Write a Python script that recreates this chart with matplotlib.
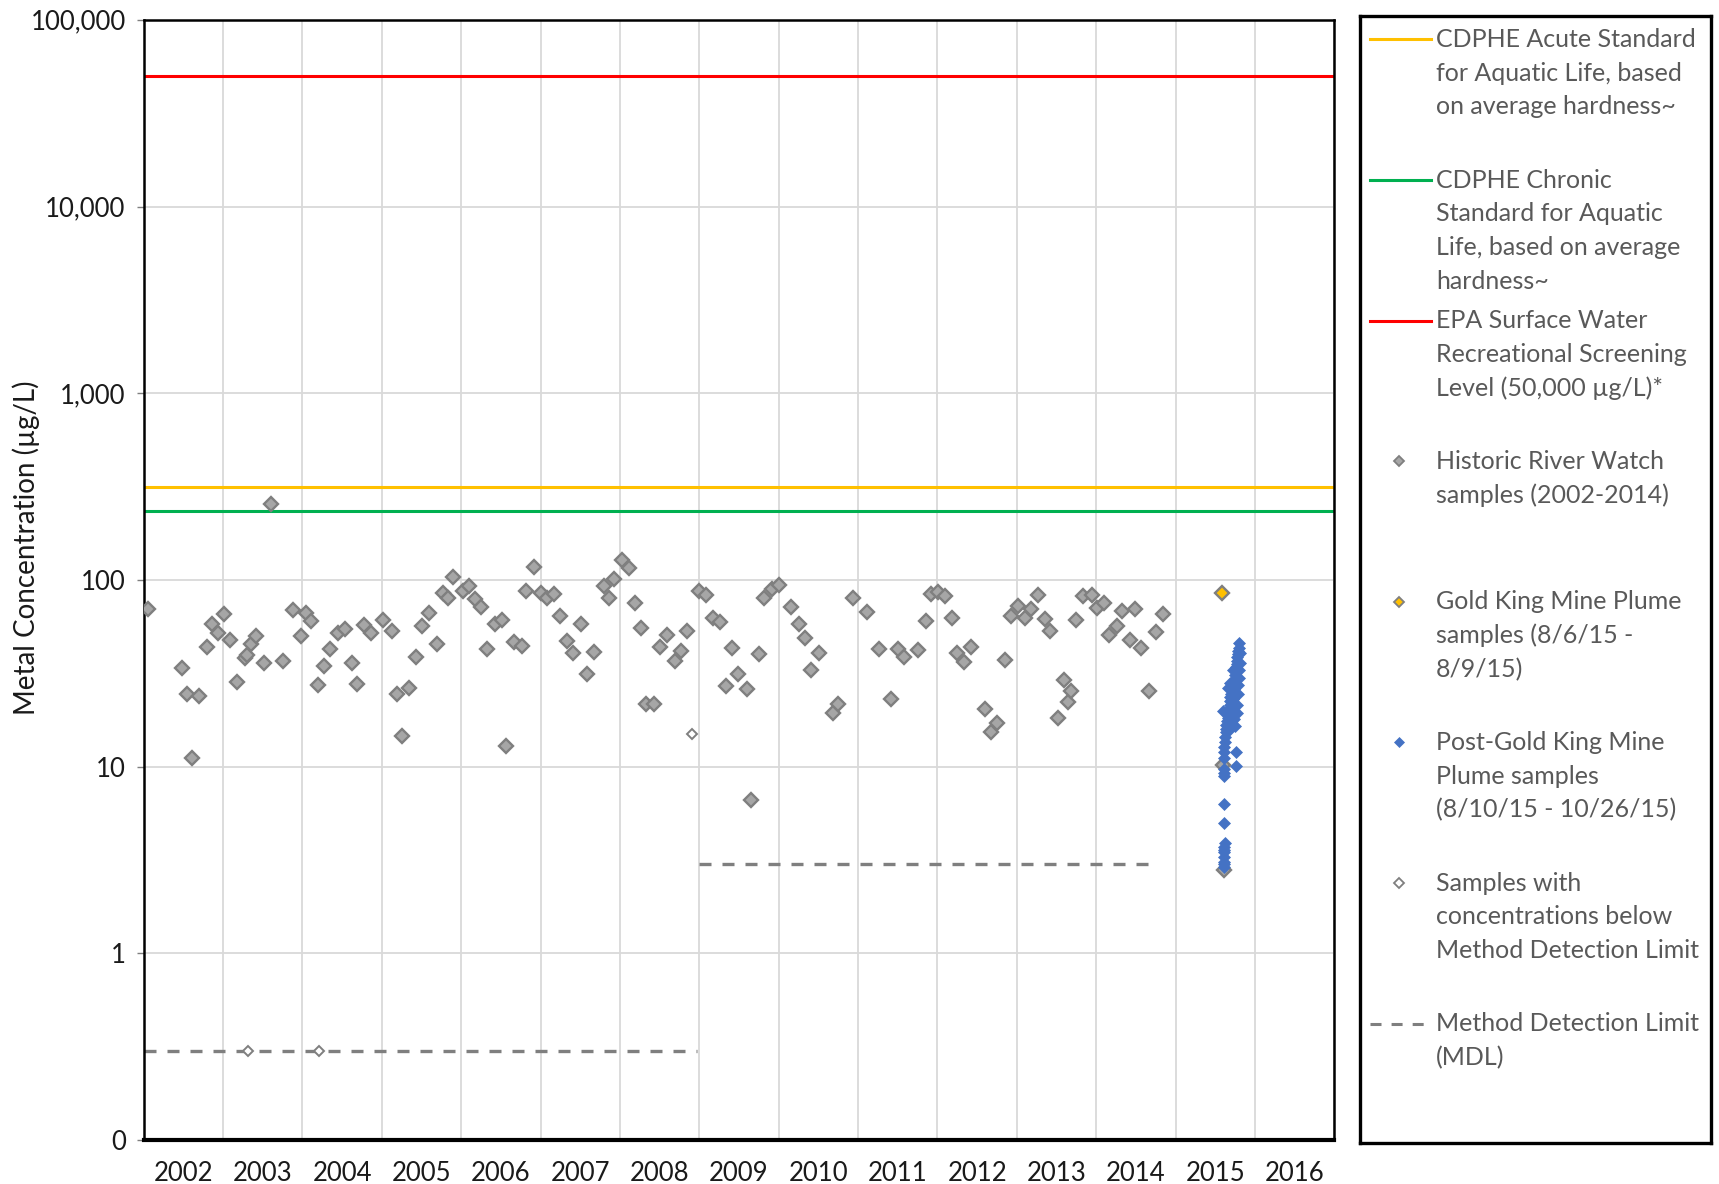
import matplotlib
matplotlib.use("Agg")
import matplotlib.pyplot as plt
from matplotlib.ticker import FixedLocator, FixedFormatter, NullLocator

plt.rcParams['font.family'] = ['Lato', 'DejaVu Sans']

# historic River Watch samples (decimal year, ug/L)
hist_years = [2002.05, 2002.48, 2002.54, 2002.61, 2002.70, 2002.80, 2002.86, 2002.93,
              2003.01, 2003.09, 2003.17, 2003.28, 2003.30, 2003.35, 2003.41, 2003.52,
              2003.61, 2003.75, 2003.88, 2003.98, 2004.04, 2004.11, 2004.20, 2004.27,
              2004.35, 2004.45, 2004.53, 2004.62, 2004.69, 2004.77, 2004.86, 2005.01,
              2005.13, 2005.19, 2005.26, 2005.34, 2005.43, 2005.51, 2005.60, 2005.69,
              2005.77, 2005.84, 2005.90, 2006.02, 2006.10, 2006.17, 2006.25, 2006.33,
              2006.42, 2006.52, 2006.57, 2006.67, 2006.77, 2006.82, 2006.92, 2007.01,
              2007.08, 2007.17, 2007.24, 2007.33, 2007.41, 2007.51, 2007.59, 2007.67,
              2007.80, 2007.86, 2007.93, 2008.03, 2008.11, 2008.19, 2008.27, 2008.33,
              2008.43, 2008.51, 2008.59, 2008.69, 2008.77, 2008.84, 2009.00, 2009.09,
              2009.17, 2009.26, 2009.34, 2009.41, 2009.49, 2009.60, 2009.65, 2009.75,
              2009.82, 2009.91, 2010.01, 2010.15, 2010.25, 2010.33, 2010.41, 2010.51,
              2010.68, 2010.75, 2010.93, 2011.11, 2011.26, 2011.41, 2011.50, 2011.58,
              2011.76, 2011.85, 2011.92, 2012.01, 2012.10, 2012.18, 2012.25, 2012.33,
              2012.42, 2012.60, 2012.67, 2012.75, 2012.85, 2012.93, 2013.01, 2013.10,
              2013.18, 2013.27, 2013.35, 2013.42, 2013.52, 2013.59, 2013.65, 2013.68,
              2013.75, 2013.84, 2013.95, 2014.01, 2014.10, 2014.16, 2014.26, 2014.32,
              2014.42, 2014.49, 2014.57, 2014.66, 2014.75, 2014.84]
hist_vals = [69.6, 33.9, 24.4, 11.1, 24.0, 44.0, 58.4, 52.2,
             66.0, 47.5, 28.5, 38.0, 39.6, 45.2, 49.9, 35.8,
             254, 36.8, 68.8, 50.3, 66.3, 60.3, 27.4, 34.8,
             42.6, 52.0, 54.7, 35.8, 27.6, 57.2, 52.2, 61.1,
             53.1, 24.4, 14.6, 26.5, 38.8, 56.9, 66.3, 45.4,
             84.9, 79.8, 103.8, 87.3, 93.2, 79.0, 72.0, 42.6,
             58.1, 61.1, 12.9, 46.8, 44.5, 87.7, 117.4, 84.9,
             79.8, 84.5, 64.4, 47.1, 40.6, 57.9, 31.2, 41.1,
             92.9, 79.8, 101.2, 128, 116.4, 75.6, 55.3, 21.7,
             21.7, 44.0, 50.6, 36.8, 41.7, 53.1, 87.3, 83.1,
             62.4, 59.3, 27.0, 43.4, 31.2, 26.1, 6.63, 40.0,
             79.8, 89.1, 94.0, 72.0, 58.1, 48.7, 32.8, 40.5,
             19.3, 21.8, 79.8, 67.6, 42.6, 23.0, 42.6, 38.5,
             42.0, 60.3, 83.8, 85.9, 82.1, 62.9, 40.5, 36.5,
             43.8, 20.5, 15.4, 17.1, 37.3, 64.4, 72.9, 62.9,
             69.6, 83.1, 61.5, 53.4, 18.3, 29.1, 22.1, 25.5,
             60.8, 82.1, 83.1, 70.5, 75.6, 50.7, 56.7, 68.2,
             47.5, 70.0, 43.0, 25.4, 52.8, 65.5]

# samples below the method detection limit
below_years = [2003.31, 2004.21, 2008.91]
below_vals = [0.3, 0.3, 15.0]

# Gold King Mine plume samples (8/6/15 - 8/9/15)
gk_years = [2015.59]
gk_vals = [85.5]
# plume-period markers hidden behind the blue cluster
gk_hidden_years = [2015.603, 2015.612]
gk_hidden_vals = [10.2, 2.8]

# post Gold King Mine plume samples (8/10/15 - 10/26/15)
post_years = [2015.612, 2015.613, 2015.614, 2015.615, 2015.616, 2015.617, 2015.612, 2015.615,
              2015.615, 2015.608, 2015.606, 2015.608, 2015.610,
              2015.608, 2015.612, 2015.615, 2015.620, 2015.625, 2015.630, 2015.600, 2015.635,
              2015.640, 2015.648, 2015.655, 2015.660, 2015.665, 2015.672, 2015.680, 2015.690,
              2015.760, 2015.760,
              2015.670, 2015.680, 2015.685, 2015.690, 2015.700, 2015.710, 2015.705, 2015.715,
              2015.720, 2015.725, 2015.730, 2015.735, 2015.740, 2015.745, 2015.750, 2015.755,
              2015.760, 2015.765, 2015.770, 2015.775, 2015.780, 2015.785, 2015.790, 2015.795,
              2015.800, 2015.800, 2015.790, 2015.785, 2015.780, 2015.770, 2015.740, 2015.750,
              2015.665, 2015.680, 2015.720, 2015.810, 2015.805, 2015.810]
post_vals = [2.9, 3.1, 3.3, 3.5, 3.7, 3.9, 3.0, 3.6,
             5.0, 6.3, 8.9, 9.3, 9.7,
             11.2, 12.0, 12.8, 13.6, 14.5, 15.3, 20.0, 16.0,
             16.8, 17.5, 18.2, 19.0, 17.0, 15.8, 18.5, 19.5,
             10.1, 12.0,
             20.5, 21.5, 22.5, 23.5, 24.5, 25.5, 21.0, 22.0,
             23.0, 24.0, 25.0, 26.0, 27.0, 28.0, 29.5, 31.0,
             32.5, 34.0, 35.5, 37.0, 38.5, 40.0, 41.5, 43.0,
             46.0, 30.0, 27.5, 24.5, 21.5, 19.5, 18.0, 16.5,
             26.5, 28.0, 33.0, 36.0, 33.0, 40.5]

# standards
acute_std = 315
chronic_std = 235
epa_level = 50000

# method detection limits
mdl1_x = [2002.0, 2008.97]
mdl1_y = [0.3, 0.3]
mdl2_x = [2009.0, 2014.75]
mdl2_y = [3.0, 3.0]

year_labels = [str(y) for y in range(2002, 2017)]
ytick_vals = [0.1, 1, 10, 100, 1000, 10000, 100000]
ytick_labels = ['0', '1', '10', '100', '1,000', '10,000', '100,000']

fig = plt.figure(figsize=(17.19, 11.84), dpi=100)
ax = fig.add_axes([0.0836, 0.0370, 0.6926, 0.9463])

ax.set_yscale('log')
ax.set_xlim(2002, 2017)
ax.set_ylim(0.1, 100000)

ax.axhline(epa_level, color='#FF0000', lw=2.2, zorder=2)
ax.axhline(acute_std, color='#FFC000', lw=2.2, zorder=2)
ax.axhline(chronic_std, color='#00B050', lw=2.2, zorder=2)

ax.plot(mdl1_x, mdl1_y, color='#7F7F7F', lw=2.4, ls=(0, (3.6, 3.3)), zorder=2)
ax.plot(mdl2_x, mdl2_y, color='#7F7F7F', lw=2.4, ls=(0, (3.6, 3.3)), zorder=2)

ax.plot(hist_years, hist_vals, 'D', ms=7.3, mfc='#A6A6A6', mec='#7F7F7F', mew=1.7, zorder=3)
ax.plot(below_years, below_vals, 'D', ms=5.0, mfc='white', mec='#7F7F7F', mew=1.4, zorder=3)
ax.plot(gk_hidden_years, gk_hidden_vals, 'D', ms=7.3, mfc='#A6A6A6', mec='#7F7F7F', mew=1.7, zorder=3)
ax.plot(post_years, post_vals, 'D', ms=6.4, mfc='#4472C4', mec='#4472C4', mew=0.5, zorder=4)
ax.plot(gk_years, gk_vals, 'D', ms=7.3, mfc='#FFC000', mec='#7F7F7F', mew=1.7, zorder=5)

# axes, ticks, grid
ax.yaxis.set_major_locator(FixedLocator(ytick_vals))
ax.yaxis.set_major_formatter(FixedFormatter(ytick_labels))
ax.yaxis.set_minor_locator(NullLocator())
ax.xaxis.set_major_locator(FixedLocator(list(range(2002, 2018))))
ax.xaxis.set_minor_locator(FixedLocator([y + 0.5 for y in range(2002, 2017)]))
ax.xaxis.set_major_formatter(FixedFormatter([''] * 16))
ax.xaxis.set_minor_formatter(FixedFormatter(year_labels))
ax.tick_params(axis='x', which='both', length=0, labelsize=18.5, pad=15, colors='#1a1a1a')
ax.tick_params(axis='y', which='major', length=5, width=1, color='#7F7F7F',
               labelsize=18.5, pad=8, labelcolor='#1a1a1a')
ax.grid(True, which='major', color='#D9D9D9', lw=1.3)
ax.set_axisbelow(True)
for s in ['top', 'right', 'left']:
    ax.spines[s].set_color('black')
    ax.spines[s].set_linewidth(1.8)
ax.spines['bottom'].set_color('black')
ax.spines['bottom'].set_linewidth(3)

fig.text(0.015, 0.537, 'Metal Concentration (µg/L)', rotation=90, ha='center', va='center',
         fontsize=20, color='#1a1a1a')

# legend drawn in its own box
lax = fig.add_axes([0.7914, 0.0343, 0.2041, 0.9519])
lax.set_xlim(0, 351)
lax.set_ylim(1127, 0)
lax.set_xticks([])
lax.set_yticks([])
for s in lax.spines.values():
    s.set_color('black')
    s.set_linewidth(2.4)

legend_labels = [
    ['CDPHE Acute Standard', 'for Aquatic Life, based', 'on average hardness~'],
    ['CDPHE Chronic', 'Standard for Aquatic', 'Life, based on average', 'hardness~'],
    ['EPA Surface Water', 'Recreational Screening', 'Level (50,000 µg/L)*'],
    ['Historic River Watch', 'samples (2002-2014)'],
    ['Gold King Mine Plume', 'samples (8/6/15 -', '8/9/15)'],
    ['Post-Gold King Mine', 'Plume samples', '(8/10/15 - 10/26/15)'],
    ['Samples with', 'concentrations below', 'Method Detection Limit'],
    ['Method Detection Limit', '(MDL)'],
]
legend_handles = [
    dict(color='#FFC000', lw=2.2),
    dict(color='#00B050', lw=2.2),
    dict(color='#FF0000', lw=2.2),
    dict(marker='D', ms=5.2, mfc='#A6A6A6', mec='#7F7F7F', mew=1.3, ls='none'),
    dict(marker='D', ms=5.2, mfc='#FFC000', mec='#7F7F7F', mew=1.3, ls='none'),
    dict(marker='D', ms=5.2, mfc='#4472C4', mec='#4472C4', mew=0.5, ls='none'),
    dict(marker='D', ms=4.6, mfc='white', mec='#7F7F7F', mew=1.3, ls='none'),
    dict(color='#7F7F7F', lw=2.2, ls=(0, (3.6, 3.3))),
]
entry_step = 140.6
line_step = 33.7
for i, (lines, hstyle) in enumerate(zip(legend_labels, legend_handles)):
    yc = 23.1 + entry_step * i
    if 'marker' in hstyle:
        lax.plot([38.5], [yc], **hstyle)
    else:
        lax.plot([9.5, 70.5], [yc, yc], **hstyle)
    for k, txt in enumerate(lines):
        lax.text(75.5, yc + k * line_step, txt, ha='left', va='center',
                 fontsize=18, color='#595959')

fig.savefig('out.png', dpi=100)
